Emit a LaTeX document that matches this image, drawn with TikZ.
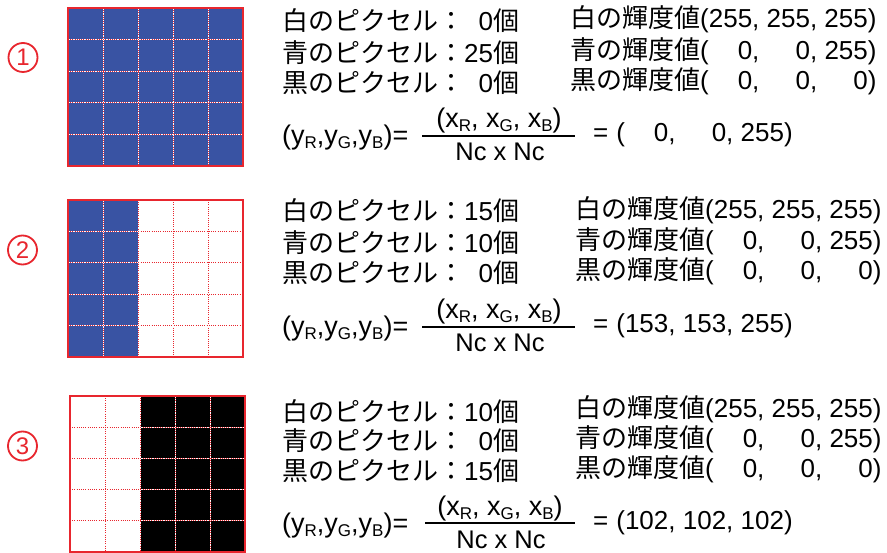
\documentclass[tikz,border=0pt]{standalone}
\usepackage{fontspec}
\setmainfont{Liberation Sans}
\newfontfamily\jp{Noto Sans CJK JP}
\definecolor{blueC}{RGB}{57,83,163}
\definecolor{redC}{RGB}{232,38,46}
\newcommand\mysb[1]{\raisebox{-4pt}{\fontsize{17}{17}\selectfont #1}}
\tikzset{
  txt/.style={anchor=base west, inner sep=0pt, font=\fontsize{26}{30}\selectfont},
  lhs/.style={anchor=base west, inner sep=0pt, font=\fontsize{27}{30}\selectfont},
  frm/.style={anchor=base, inner sep=0pt, font=\fontsize{27}{30}\selectfont},
  den/.style={anchor=base, inner sep=0pt, font=\fontsize{25.5}{30}\selectfont},
  circnum/.style={circle, draw=redC, line width=1.8pt, minimum size=29pt, inner sep=0pt, text=redC, font=\fontsize{24}{24}\selectfont},
  border/.style={draw=redC, line width=2.5pt},
  gridw/.style={white, line width=0.9pt},
  gridr/.style={redC, line width=0.9pt, dash pattern=on 1pt off 1.2pt},
  fbar/.style={line width=2pt, black}
}
\newcommand\pixgrid[4]{% x0 y0 x1 y1
  \foreach \i in {1,...,4}{
    \draw[gridw] ({#1+(#3-#1)*\i/5},#2) -- ({#1+(#3-#1)*\i/5},#4);
    \draw[gridr] ({#1+(#3-#1)*\i/5},#2) -- ({#1+(#3-#1)*\i/5},#4);
    \draw[gridw] (#1,{#2+(#4-#2)*\i/5}) -- (#3,{#2+(#4-#2)*\i/5});
    \draw[gridr] (#1,{#2+(#4-#2)*\i/5}) -- (#3,{#2+(#4-#2)*\i/5});
  }
  \draw[border] (#1,#2) rectangle (#3,#4);
}
\begin{document}
\begin{tikzpicture}[x=1pt,y=-1pt]
\useasboundingbox[fill=white] (0,0) rectangle (887,553);

% circled numbers
\node[circnum] (c1) at (23,57.5) {1};
\node[circnum] (c2) at (22.5,250) {2};
\node[circnum] (c3) at (22.5,446) {3};

% grid 1
\fill[blueC] (68,8) rectangle (243,166);
\pixgrid{68}{8}{243}{166}
% grid 2
\fill[blueC] (68,200) rectangle (138,357);
\pixgrid{68}{200}{243}{357}
% grid 3
\fill[black] (140,396) rectangle (245,552);
\pixgrid{70}{396}{245}{552}

% ---------- block 1 ----------
\node[txt] (a1) at (282,31) {{\jp 白のピクセル：}\hphantom{2}0{\jp 個}};
\node[txt] (a2) at (282,63) {{\jp 青のピクセル：}25{\jp 個}};
\node[txt] (a3) at (282,93) {{\jp 黒のピクセル：}\hphantom{2}0{\jp 個}};
\node[txt] (b1) at (570,28) {{\jp 白の輝度値}(255, 255, 255)};
\node[txt] (b2) at (570,60) {{\jp 青の輝度値}(\hphantom{25}0, \hphantom{25}0, 255)};
\node[txt] (b3) at (570,90) {{\jp 黒の輝度値}(\hphantom{25}0, \hphantom{25}0, \hphantom{25}0)};
\node[lhs] (l1) at (282,145) {(y\mysb{R},y\mysb{G},y\mysb{B})=};
\coordinate (f1a) at (422,136);
\coordinate (f1b) at (575,136);
\draw[fbar] (f1a) -- (f1b);
\node[frm] (n1) at (499,128) {(x\mysb{R}, x\mysb{G}, x\mysb{B})};
\node[den] (d1) at (500,161) {Nc x Nc};
\node[txt] (r1) at (593,142) {=\hspace{8pt}(\hphantom{25}0, \hphantom{25}0, 255)};

% ---------- block 2 ----------
\node[txt] (a4) at (282,221) {{\jp 白のピクセル：}15{\jp 個}};
\node[txt] (a5) at (282,253) {{\jp 青のピクセル：}10{\jp 個}};
\node[txt] (a6) at (282,283) {{\jp 黒のピクセル：}\hphantom{2}0{\jp 個}};
\node[txt] (b4) at (575,219) {{\jp 白の輝度値}(255, 255, 255)};
\node[txt] (b5) at (575,250) {{\jp 青の輝度値}(\hphantom{25}0, \hphantom{25}0, 255)};
\node[txt] (b6) at (575,280) {{\jp 黒の輝度値}(\hphantom{25}0, \hphantom{25}0, \hphantom{25}0)};
\node[lhs] (l2) at (282,336) {(y\mysb{R},y\mysb{G},y\mysb{B})=};
\coordinate (f2a) at (422,327);
\coordinate (f2b) at (575,327);
\draw[fbar] (f2a) -- (f2b);
\node[frm] (n2) at (499,319) {(x\mysb{R}, x\mysb{G}, x\mysb{B})};
\node[den] (d2) at (500,352) {Nc x Nc};
\node[txt] (r2) at (593,333) {=\hspace{8pt}(153, 153, 255)};

% ---------- block 3 ----------
\node[txt] (a7) at (282,421) {{\jp 白のピクセル：}10{\jp 個}};
\node[txt] (a8) at (282,450) {{\jp 青のピクセル：}\hphantom{2}0{\jp 個}};
\node[txt] (a9) at (282,480) {{\jp 黒のピクセル：}15{\jp 個}};
\node[txt] (b7) at (575,418) {{\jp 白の輝度値}(255, 255, 255)};
\node[txt] (b8) at (575,448) {{\jp 青の輝度値}(\hphantom{25}0, \hphantom{25}0, 255)};
\node[txt] (b9) at (575,477) {{\jp 黒の輝度値}(\hphantom{25}0, \hphantom{25}0, \hphantom{25}0)};
\node[lhs] (l3) at (282,532) {(y\mysb{R},y\mysb{G},y\mysb{B})=};
\coordinate (f3a) at (425,523);
\coordinate (f3b) at (575,523);
\draw[fbar] (f3a) -- (f3b);
\node[frm] (n3) at (500,515) {(x\mysb{R}, x\mysb{G}, x\mysb{B})};
\node[den] (d3) at (501,548) {Nc x Nc};
\node[txt] (r3) at (593,529) {=\hspace{8pt}(102, 102, 102)};
\end{tikzpicture}
\end{document}
